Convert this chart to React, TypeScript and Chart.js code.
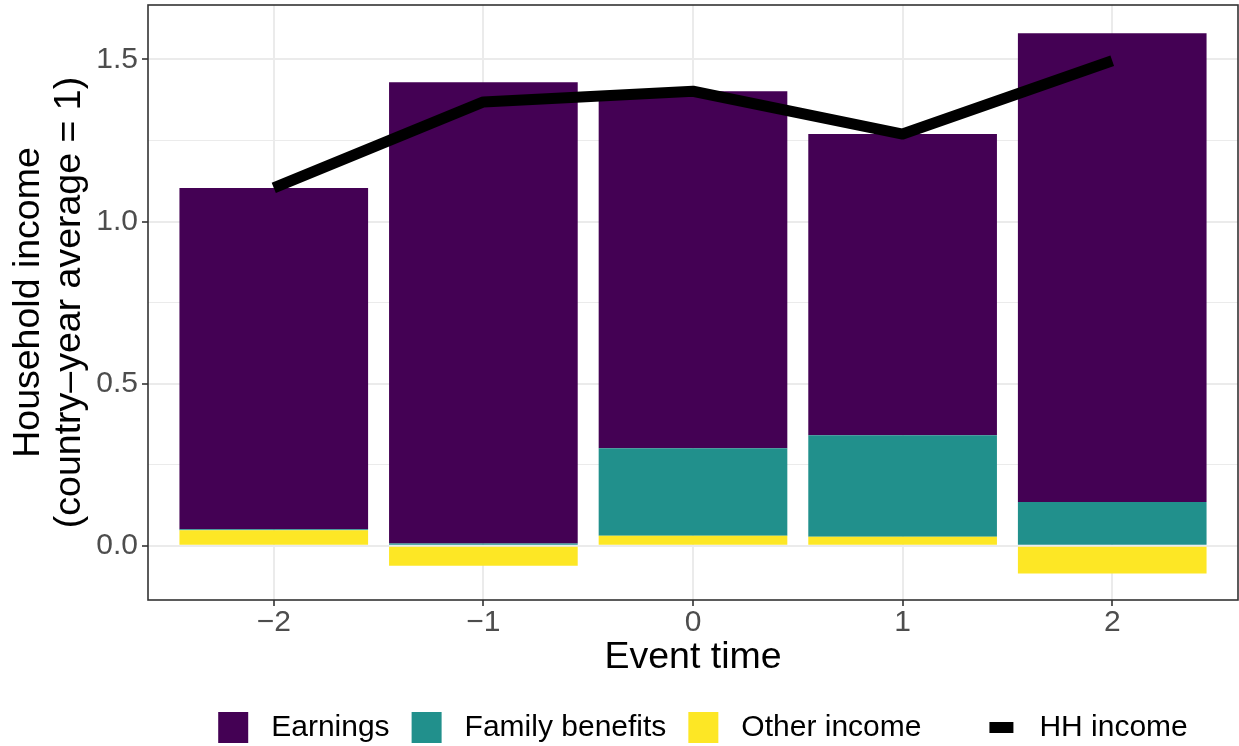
import React, { useEffect, useRef } from 'react';
import { Chart, registerables } from 'chart.js';

Chart.register(...registerables);

// ---- data ----
const eventTimes = [-2, -1, 0, 1, 2];
const earnings = [1.053, 1.423, 1.101, 0.929, 1.446];
const familyBenefits = [0.003, 0.007, 0.27, 0.313, 0.135];
const otherIncome = [0.048, -0.061, 0.031, 0.028, -0.085];
const hhIncome = [1.104, 1.369, 1.402, 1.27, 1.496];
const yMajorTicks = [0, 0.5, 1.0, 1.5];
const yMinorTicks = [0.25, 0.75, 1.25];
const barNames = ['Earnings', 'Family benefits', 'Other income'];
const barColors = ['#440154', '#21908C', '#FDE725'];
const lineName = 'HH income';
const lineColor = '#000000';

const FONT = '"Liberation Sans", Arimo, Arial, Helvetica, sans-serif';
const isMajor = (v: number) => yMajorTicks.some((m) => Math.abs(m - v) < 1e-9);
const fmtX = (v: number) => (v < 0 ? '\u2212' + Math.abs(v) : String(v));

const panelBorder = {
  id: 'panelBorder',
  afterDraw(chart: any) {
    const { ctx, chartArea } = chart;
    ctx.save();
    ctx.strokeStyle = '#333333';
    ctx.lineWidth = 1.6;
    ctx.strokeRect(chartArea.left, chartArea.top, chartArea.right - chartArea.left, chartArea.bottom - chartArea.top);
    ctx.restore();
  },
};

const ggLegend = {
  id: 'ggLegend',
  afterDraw(chart: any) {
    const ctx = chart.ctx;
    ctx.save();
    ctx.font = '30px ' + FONT;
    ctx.textBaseline = 'middle';
    ctx.textAlign = 'left';
    const keyW = 30;
    const keyH = 31;
    const textGap = 23;
    const itemGap = 22;
    const groupGap = 65;
    const cy = chart.height - 18.5;
    const barWidths = barNames.map((n) => ctx.measureText(n).width);
    const lineW = ctx.measureText(lineName).width;
    let total = 0;
    barWidths.forEach((w, i) => {
      total += keyW + textGap + w + (i < barWidths.length - 1 ? itemGap : 0);
    });
    total += groupGap + keyW + textGap + lineW;
    let x = 703 - total / 2;
    barNames.forEach((n, i) => {
      ctx.fillStyle = barColors[i];
      ctx.fillRect(x, cy - keyH / 2, keyW, keyH);
      ctx.fillStyle = '#000000';
      ctx.fillText(n, x + keyW + textGap, cy);
      x += keyW + textGap + barWidths[i] + (i < barNames.length - 1 ? itemGap : 0);
    });
    x += groupGap;
    ctx.strokeStyle = lineColor;
    ctx.lineWidth = 11;
    ctx.lineCap = 'butt';
    ctx.beginPath();
    ctx.moveTo(x + 3, cy);
    ctx.lineTo(x + keyW - 3, cy);
    ctx.stroke();
    ctx.fillStyle = '#000000';
    ctx.fillText(lineName, x + keyW + textGap, cy);
    ctx.restore();
  },
};

export default function App() {
  const ref = useRef<HTMLCanvasElement | null>(null);

  useEffect(() => {
    if (!ref.current) return;
    const pts = (arr: number[]) => eventTimes.map((t, i) => ({ x: t, y: arr[i] }));
    const barSeries = [otherIncome, familyBenefits, earnings];
    const barIdx = [2, 1, 0];
    const chart = new Chart(ref.current, {
      type: 'bar',
      data: {
        datasets: [
          {
            type: 'line',
            label: lineName,
            data: pts(hhIncome),
            borderColor: lineColor,
            backgroundColor: lineColor,
            borderWidth: 11,
            pointRadius: 0,
            pointHoverRadius: 0,
            borderJoinStyle: 'round',
            borderCapStyle: 'butt',
            tension: 0,
            fill: false,
            stack: 'hh',
          } as any,
          ...barSeries.map((s, k) => ({
            type: 'bar',
            label: barNames[barIdx[k]],
            data: pts(s),
            backgroundColor: barColors[barIdx[k]],
            borderWidth: 0,
            barPercentage: 0.9,
            categoryPercentage: 1.0,
            stack: 'bars',
          })) as any[],
        ],
      },
      options: {
        animation: false,
        responsive: true,
        maintainAspectRatio: false,
        layout: { padding: { left: 0, right: 1, top: 5, bottom: 66 } },
        plugins: {
          legend: { display: false },
          tooltip: { enabled: false },
          title: { display: false },
        },
        scales: {
          x: {
            type: 'linear',
            min: -2.6,
            max: 2.6,
            offset: false,
            afterBuildTicks: (scale: any) => {
              scale.ticks = eventTimes.map((v) => ({ value: v }));
            },
            afterFit: (scale: any) => {
              scale.height = 80;
              scale.paddingLeft = 0;
              scale.paddingRight = 0;
            },
            ticks: {
              autoSkip: false,
              maxRotation: 0,
              padding: 0,
              color: '#4D4D4D',
              font: { family: FONT, size: 30, lineHeight: 1.1 },
              callback: (v: any) => fmtX(Number(v)),
            },
            grid: {
              offset: false,
              color: '#EBEBEB',
              lineWidth: 2,
              tickColor: '#333333',
              tickWidth: 1.6,
              tickLength: 6,
            },
            border: { display: false },
            title: {
              display: true,
              text: 'Event time',
              color: '#000000',
              font: { family: FONT, size: 37.5, lineHeight: 1.07 },
              padding: { top: 0, bottom: 2 },
            },
          },
          y: {
            type: 'linear',
            stacked: true,
            min: -0.167,
            max: 1.668,
            afterBuildTicks: (scale: any) => {
              scale.ticks = [...yMajorTicks, ...yMinorTicks]
                .sort((a, b) => a - b)
                .map((v) => ({ value: v }));
            },
            afterFit: (scale: any) => {
              scale.width = 148;
              scale.paddingTop = 0;
              scale.paddingBottom = 0;
            },
            ticks: {
              autoSkip: false,
              padding: 4,
              color: '#4D4D4D',
              font: { family: FONT, size: 30, lineHeight: 1.1 },
              callback: (v: any) => (isMajor(Number(v)) ? Number(v).toFixed(1) : ''),
            },
            grid: {
              color: '#EBEBEB',
              lineWidth: (c: any) => (c.tick && isMajor(c.tick.value) ? 2 : 1),
              tickColor: (c: any) => (c.tick && isMajor(c.tick.value) ? '#333333' : 'rgba(0,0,0,0)'),
              tickWidth: 1.6,
              tickLength: 6,
            },
            border: { display: false },
            title: {
              display: true,
              text: ['Household income', '(country\u2013year average = 1)'],
              color: '#000000',
              font: { family: FONT, size: 37.5, lineHeight: 1.07 },
              padding: { top: 9, bottom: 0 },
            },
          },
        },
      } as any,
      plugins: [panelBorder, ggLegend],
    });
    return () => chart.destroy();
  }, []);

  return (
    <div style={{ position: 'absolute', left: 0, top: 0, width: 1239, height: 746, background: '#ffffff' }}>
      <canvas ref={ref} />
    </div>
  );
}
